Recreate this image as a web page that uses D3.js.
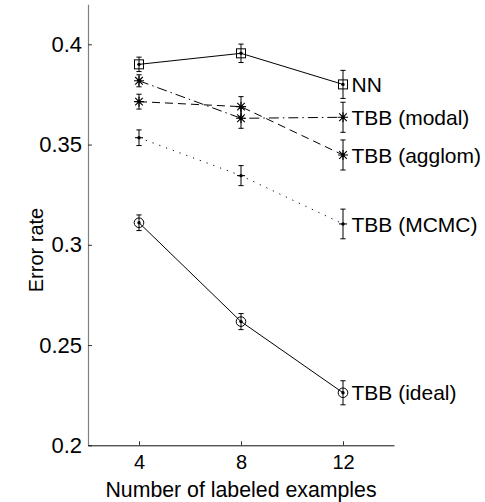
<!DOCTYPE html>
<html>
<head>
<meta charset="utf-8">
<script src="https://cdn.jsdelivr.net/npm/d3@7"></script>
<style>
  body { margin: 0; background: #fff; }
  text { font-family: "Liberation Sans", Arial, sans-serif; fill: #000; }
</style>
</head>
<body>
<div id="plot"></div>
<script>
// number of labeled examples
var examples = [4, 8, 12];

// error rates and error bar half-widths
var nnVals = [0.3900, 0.3955, 0.3800];
var nnErr = [0.0036, 0.0046, 0.0070];
var modalVals = [0.3818, 0.3631, 0.3636];
var modalErr = [0.0030, 0.0050, 0.0075];
var agglomVals = [0.3714, 0.3689, 0.3448];
var agglomErr = [0.0037, 0.0050, 0.0075];
var mcmcVals = [0.3534, 0.3345, 0.3104];
var mcmcErr = [0.0039, 0.0050, 0.0074];
var idealVals = [0.3110, 0.2617, 0.2262];
var idealErr = [0.0039, 0.0040, 0.0060];

var seriesNames = ["NN", "TBB (modal)", "TBB (agglom)", "TBB (MCMC)", "TBB (ideal)"];

var yTicks = [0.2, 0.25, 0.3, 0.35, 0.4];
var yTickLabels = ["0.2", "0.25", "0.3", "0.35", "0.4"];
var xTicks = [4, 8, 12];

var series = [
  {name: seriesNames[0], vals: nnVals, err: nnErr, marker: "square", dash: null},
  {name: seriesNames[1], vals: modalVals, err: modalErr, marker: "star", dash: "10,4,1.5,4"},
  {name: seriesNames[2], vals: agglomVals, err: agglomErr, marker: "star", dash: "8,5"},
  {name: seriesNames[3], vals: mcmcVals, err: mcmcErr, marker: "plus", dash: "1.2,6"},
  {name: seriesNames[4], vals: idealVals, err: idealErr, marker: "circle", dash: null}
];

var width = 485, height = 502;

var svg = d3.select("#plot")
  .append("svg")
    .attr("width", width)
    .attr("height", height);

var x = d3.scaleLinear()
    .domain([2, 14])
    .range([88, 394]);

var y = d3.scaleLinear()
    .domain([0.2, 0.42])
    .range([445.3, 4.2]);

// Y axis, ticks pointing inward
var yAxis = svg.append("g")
    .attr("transform", "translate(88,0)")
    .call(d3.axisLeft(y)
      .tickValues(yTicks)
      .tickFormat(function(d, i) { return yTickLabels[i]; })
      .tickSize(-4)
      .tickSizeOuter(0)
      .tickPadding(6));
yAxis.select(".domain").attr("stroke", "#808080").attr("stroke-width", 1.2);
yAxis.selectAll(".tick line").attr("stroke", "#333");
yAxis.selectAll(".tick text")
    .attr("font-size", "22px")
    .attr("font-family", null);

// X axis
var xAxis = svg.append("g")
    .attr("transform", "translate(0,445.3)")
    .call(d3.axisBottom(x)
      .tickValues(xTicks)
      .tickSize(-4)
      .tickSizeOuter(0)
      .tickPadding(10));
xAxis.select(".domain").attr("stroke", "#111");
xAxis.selectAll(".tick line").attr("stroke", "#333");
xAxis.selectAll(".tick text")
    .attr("font-size", "20px")
    .attr("font-family", null);

// axis titles
svg.append("text")
    .attr("x", x(8))
    .attr("y", 496.5)
    .attr("text-anchor", "middle")
    .attr("font-size", "21.3px")
    .text("Number of labeled examples");

svg.append("text")
    .attr("transform", "translate(43,250) rotate(-90)")
    .attr("text-anchor", "middle")
    .attr("font-size", "20px")
    .text("Error rate");

var line = d3.line()
    .x(function(d, i) { return x(examples[i]); })
    .y(function(d) { return y(d); });

var groups = svg.selectAll(".series")
  .data(series)
  .enter()
  .append("g")
    .attr("class", "series");

// connecting lines
groups.append("path")
    .attr("d", function(s) { return line(s.vals); })
    .attr("fill", "none")
    .attr("stroke", "#000")
    .attr("stroke-width", 1)
    .attr("stroke-dasharray", function(s) { return s.dash; });

// error bars with caps
var capW = 2.6;
groups.each(function(s) {
  var g = d3.select(this);
  s.vals.forEach(function(v, i) {
    var cx = x(examples[i]);
    var top = y(v + s.err[i]), bot = y(v - s.err[i]);
    g.append("path")
        .attr("d", "M" + cx + "," + top + "V" + bot +
                   "M" + (cx - capW) + "," + top + "H" + (cx + capW) +
                   "M" + (cx - capW) + "," + bot + "H" + (cx + capW))
        .attr("stroke", "#000")
        .attr("stroke-width", 1)
        .attr("fill", "none");

    var cy = y(v);
    if (s.marker == "square") {
      g.append("rect")
          .attr("x", cx - 4.5).attr("y", cy - 4.5)
          .attr("width", 9).attr("height", 9)
          .attr("fill", "none").attr("stroke", "#000");
    } else if (s.marker == "circle") {
      g.append("circle")
          .attr("cx", cx).attr("cy", cy).attr("r", 4.8)
          .attr("fill", "none").attr("stroke", "#000");
    } else if (s.marker == "star") {
      var r = 5, q = 3.8;
      g.append("path")
          .attr("d", "M" + (cx - r) + "," + cy + "H" + (cx + r) +
                     "M" + cx + "," + (cy - r) + "V" + (cy + r) +
                     "M" + (cx - q) + "," + (cy - q) + "L" + (cx + q) + "," + (cy + q) +
                     "M" + (cx - q) + "," + (cy + q) + "L" + (cx + q) + "," + (cy - q))
          .attr("stroke", "#000").attr("stroke-width", 1.1);
    } else if (s.marker == "plus") {
      g.append("path")
          .attr("d", "M" + (cx - 4) + "," + cy + "H" + (cx + 4))
          .attr("stroke", "#000").attr("stroke-width", 1.1);
    }
    g.append("circle")
        .attr("cx", cx).attr("cy", cy).attr("r", 1.7)
        .attr("fill", "#000");
  });
});

// end labels
groups.append("text")
    .attr("x", x(12) + 8.5)
    .attr("y", function(s) { return y(s.vals[2]); })
    .attr("dy", "0.36em")
    .attr("font-size", "21px")
    .text(function(s) { return s.name; });
</script>
</body>
</html>
